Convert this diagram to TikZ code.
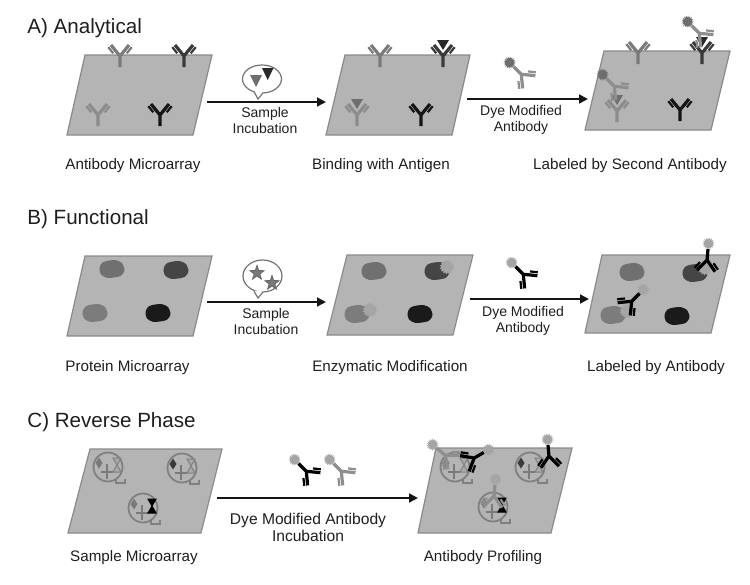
\documentclass[tikz,border=0pt]{standalone}
\usepackage{fontspec}
\setmainfont{Liberation Sans}
\usetikzlibrary{arrows.meta}
\definecolor{parfill}{HTML}{B4B4B4}
\definecolor{parline}{HTML}{8A8A8A}
\definecolor{txt}{HTML}{1E1E1E}
\definecolor{ga}{HTML}{7A7A7A}
\definecolor{gb}{HTML}{3A3A3A}
\definecolor{gc}{HTML}{8C8C8C}
\definecolor{gd}{HTML}{151515}
\definecolor{sa}{HTML}{707070}
\definecolor{sb}{HTML}{454545}
\definecolor{sc}{HTML}{7C7C7C}
\definecolor{sd}{HTML}{1A1A1A}
\definecolor{agmid}{HTML}{6E6E6E}
\definecolor{agdark}{HTML}{2A2A2A}
\definecolor{dyem}{HTML}{6E6E6E}
\definecolor{dyel}{HTML}{A5A5A5}
\definecolor{abl}{HTML}{8E8E8E}
\definecolor{smpc}{HTML}{808080}
\definecolor{hgl}{HTML}{A9A9A9}
\tikzset{
  x=0.5pt, y=-0.5pt,
  par/.style={fill=parfill, draw=parline, line width=0.6pt},
  flow/.style={line width=1.4pt, -{Triangle[length=4.5pt,width=4.4pt]}, color=black!92},
  ttl/.style={anchor=base west, inner sep=0pt, font=\fontsize{10.3}{12}\selectfont, text=txt},
  lbl/.style={anchor=base, inner sep=0pt, font=\fontsize{7.6}{9}\selectfont, text=txt},
  albl/.style={anchor=base, inner sep=0pt, font=\fontsize{7}{8}\selectfont, text=txt},
  clbl/.style={anchor=base, inner sep=0pt, font=\fontsize{7.8}{9}\selectfont, text=txt},
  bub/.style={draw=black!55, fill=white, line width=0.6pt},
  smp/.style={draw=smpc, line width=0.9pt},
  crs/.style={draw=ga, line width=0.6pt},
  hglight/.style={draw=smpc, fill=hgl, line width=0.5pt},
  hgdark/.style={draw=black, fill=black, line width=0.5pt},
}
% antibody Y drawn at the origin, stem base at (0,0), arms upwards
\newcommand\abdraw{%
  \draw[line width=1.6pt, line join=round] (0,0) -- (0,-11) -- (-9,-22) (0,-11) -- (9,-22);
  \draw[line width=1.1pt] (-6.75,-13.75) -- (-11.7,-19.8) (6.75,-13.75) -- (11.7,-19.8);}
\newcommand\dyedraw{%
  \fill (0:6.2) \foreach \a in {20,40,...,340}{ -- (\a-10:4) -- (\a:6.2)} -- (350:4) -- cycle;}
\newcommand\ab[2]{\begin{scope}[shift={#1}, color=#2]\abdraw\end{scope}}
\newcommand\antig[2]{\fill[#2, shift={#1}] (-6,-27) -- (6,-27) -- (0,-17) -- cycle;}
\newcommand\modif[1]{\fill[dyel, shift={#1}] (0:7.5) \foreach \a in {24,48,...,336}{ -- (\a-12:5.6) -- (\a:7.5)} -- (348:5.6) -- cycle;}
\newcommand\ministar[1]{\filldraw[fill=ga, draw=black!60, line width=0.4pt, shift={#1}] (-90:7.5) -- (-54:3) -- (-18:7.5) -- (18:3) -- (54:7.5) -- (90:3) -- (126:7.5) -- (162:3) -- (198:7.5) -- (234:3) -- cycle;}
\newcommand\spot[2]{\fill[#2, shift={#1}] plot[smooth cycle] coordinates {(12.5,0) (10,-6) (4,-8.8) (-3,-8.5) (-9.5,-6.5) (-12.5,-1) (-11,5.5) (-5,8.8) (2,8.5) (8.5,7) (12,3)};}
\newcommand\secab[4]{%
  \begin{scope}[shift={#1}, rotate=#2]
    \begin{scope}[color=#4, shift={(0,5.5)}]\dyedraw\end{scope}
    \begin{scope}[color=#3]\abdraw\end{scope}
  \end{scope}}
\newcommand\sampc[3]{%
  \begin{scope}[shift={#1}]
    \draw[smp] (0,0) circle[radius=14.5];
    \draw[smp] (8,11.5) -- (8,16) -- (17,16) -- (17,11.5);
    \fill[#2] (-9,-9.5) -- (-5.5,-4) -- (-9,1.5) -- (-12.5,-4) -- cycle;
    \draw[crs] (-1,-3) -- (-1,12) (-7,5) -- (5,5);
    \filldraw[#3] (5,-9) -- (13,-9) -- (9,-2) -- (13,5) -- (5,5) -- (9,-2) -- cycle;
  \end{scope}}
\begin{document}
\begin{tikzpicture}
\useasboundingbox (0,0) rectangle (750,584);

% ---------- Row A ----------
\node[ttl] (tA) at (27,33) {A) Analytical};
\filldraw[par] (85,55) -- (212,55) -- (193,135) -- (67,135) -- cycle;
\filldraw[par] (345,55) -- (470,55) -- (452,135) -- (326,135) -- cycle;
\filldraw[par] (604,51) -- (730,51) -- (711,130) -- (585,130) -- cycle;

% A1
\ab{(120,67)}{ga}
\ab{(184,67)}{gb}
\ab{(98,126)}{gc}
\ab{(160,126)}{gd}
% A2
\ab{(380,67)}{ga}
\ab{(443,67)}{gb}
\antig{(443,67)}{agdark}
\ab{(357,126)}{gc}
\antig{(357,126)}{agmid}
\ab{(421,126)}{gd}
% A3
\ab{(638,64)}{ga}
\ab{(702,64)}{gb}
\antig{(702,64)}{agdark}
\ab{(617,122)}{gc}
\antig{(617,122)}{agmid}
\ab{(680,121)}{gd}
\secab{(691.5,25.5)}{-135}{abl}{dyem}
\secab{(606.5,78.5)}{-135}{abl}{dyem}

% bubble A
\filldraw[bub] (262,79) ellipse[x radius=19.5, y radius=14];
\fill[white] (254.6,90.5) -- (258,99) -- (262.6,91.5) -- cycle;
\draw[bub] (254,91.6) -- (258,99) -- (263,92.9);
\fill[agmid] (250,75) -- (262,75) -- (256,87) -- cycle;
\fill[agdark] (262,68) -- (273.5,68) -- (267.7,80) -- cycle;

% free secondary antibody A
\secab{(513.5,66.5)}{-135}{abl}{dyem}

\coordinate (a1s) at (207,102); \coordinate (a1e) at (326,102);
\coordinate (a2s) at (467,99);  \coordinate (a2e) at (588,99);
\draw[flow] (a1s) -- (a1e);
\draw[flow] (a2s) -- (a2e);
\node[albl] (sA1) at (265,117) {Sample};
\node[albl] (sA2) at (265,133.5) {Incubation};
\node[albl] (dA1) at (521,115) {Dye Modified};
\node[albl] (dA2) at (521,131.5) {Antibody};
\node[lbl] (lA1) at (133,169) {Antibody Microarray};
\node[lbl] (lA2) at (381,169) {Binding with Antigen};
\node[lbl] (lA3) at (630,169) {Labeled by Second Antibody};

% ---------- Row B ----------
\node[ttl] (tB) at (27,224) {B) Functional};
\filldraw[par] (85,256) -- (212,256) -- (193,336) -- (67,336) -- cycle;
\filldraw[par] (347,255) -- (473,255) -- (453,335) -- (327,335) -- cycle;
\filldraw[par] (602,255) -- (730,255) -- (711,333) -- (585,333) -- cycle;

% B1
\spot{(112,269)}{sa}
\spot{(176,270)}{sb}
\spot{(95,313)}{sc}
\spot{(158,313)}{sd}
% B2
\spot{(374,271)}{sa}
\spot{(437,271)}{sb}
\modif{(447,267)}
\spot{(357,314)}{sc}
\modif{(370,310)}
\spot{(420,314)}{sd}
% B3
\spot{(632,272)}{sa}
\spot{(695,273)}{sb}
\modif{(705,268)}
\spot{(613,315)}{sc}
\modif{(627,311)}
\spot{(677,316)}{sd}
\secab{(708,249)}{175}{black}{dyel}
\secab{(639.5,293.5)}{135}{black}{dyel}

% bubble B
\filldraw[bub] (262.5,276) ellipse[x radius=19.5, y radius=16];
\fill[white] (254.6,290.5) -- (258,298) -- (262.6,291.5) -- cycle;
\draw[bub] (254,291.3) -- (258,298) -- (263,292);
\ministar{(257,273)}
\ministar{(272,283)}

% free antibody B
\secab{(515.5,266.5)}{-135}{black}{dyel}

\coordinate (b1s) at (207,302); \coordinate (b1e) at (326,302);
\coordinate (b2s) at (470,299); \coordinate (b2e) at (589,299);
\draw[flow] (b1s) -- (b1e);
\draw[flow] (b2s) -- (b2e);
\node[albl] (sB1) at (266,318) {Sample};
\node[albl] (sB2) at (266,334.5) {Incubation};
\node[albl] (dB1) at (523,316) {Dye Modified};
\node[albl] (dB2) at (523,332.5) {Antibody};
\node[lbl] (lB1) at (127.5,371) {Protein Microarray};
\node[lbl] (lB2) at (390,371) {Enzymatic Modification};
\node[lbl] (lB3) at (656,371) {Labeled by Antibody};

% ---------- Row C ----------
\node[ttl] (tC) at (27,427) {C) Reverse Phase};
\filldraw[par] (90,449) -- (222,449) -- (201,533) -- (68,533) -- cycle;
\filldraw[par] (436,448) -- (572,448) -- (551,533) -- (418,533) -- cycle;

\sampc{(108,467)}{ga}{hglight}
\sampc{(182,468)}{gb}{hglight}
\sampc{(143,508)}{ga}{hgdark}

\sampc{(455,467)}{ga}{hglight}
\sampc{(530,467)}{gb}{hglight}
\sampc{(493,507)}{ga}{hgdark}
\secab{(436.8,448.2)}{-130}{abl}{dyel}
\secab{(483.7,452.5)}{120}{black}{dyel}
\secab{(548,445)}{185}{black}{dyel}
\secab{(495,485)}{175}{abl}{dyel}

% free antibodies C
\secab{(298.5,463.5)}{-135}{black}{dyel}
\secab{(333.5,463.5)}{-135}{abl}{dyel}

\coordinate (c1s) at (217,498); \coordinate (c1e) at (418,498);
\draw[flow] (c1s) -- (c1e);
\node[clbl] (dC1) at (308,524) {Dye Modified Antibody};
\node[clbl] (dC2) at (308,541) {Incubation};
\node[lbl] (lC1) at (134,561) {Sample Microarray};
\node[lbl] (lC2) at (483,561) {Antibody Profiling};
\end{tikzpicture}
\end{document}
